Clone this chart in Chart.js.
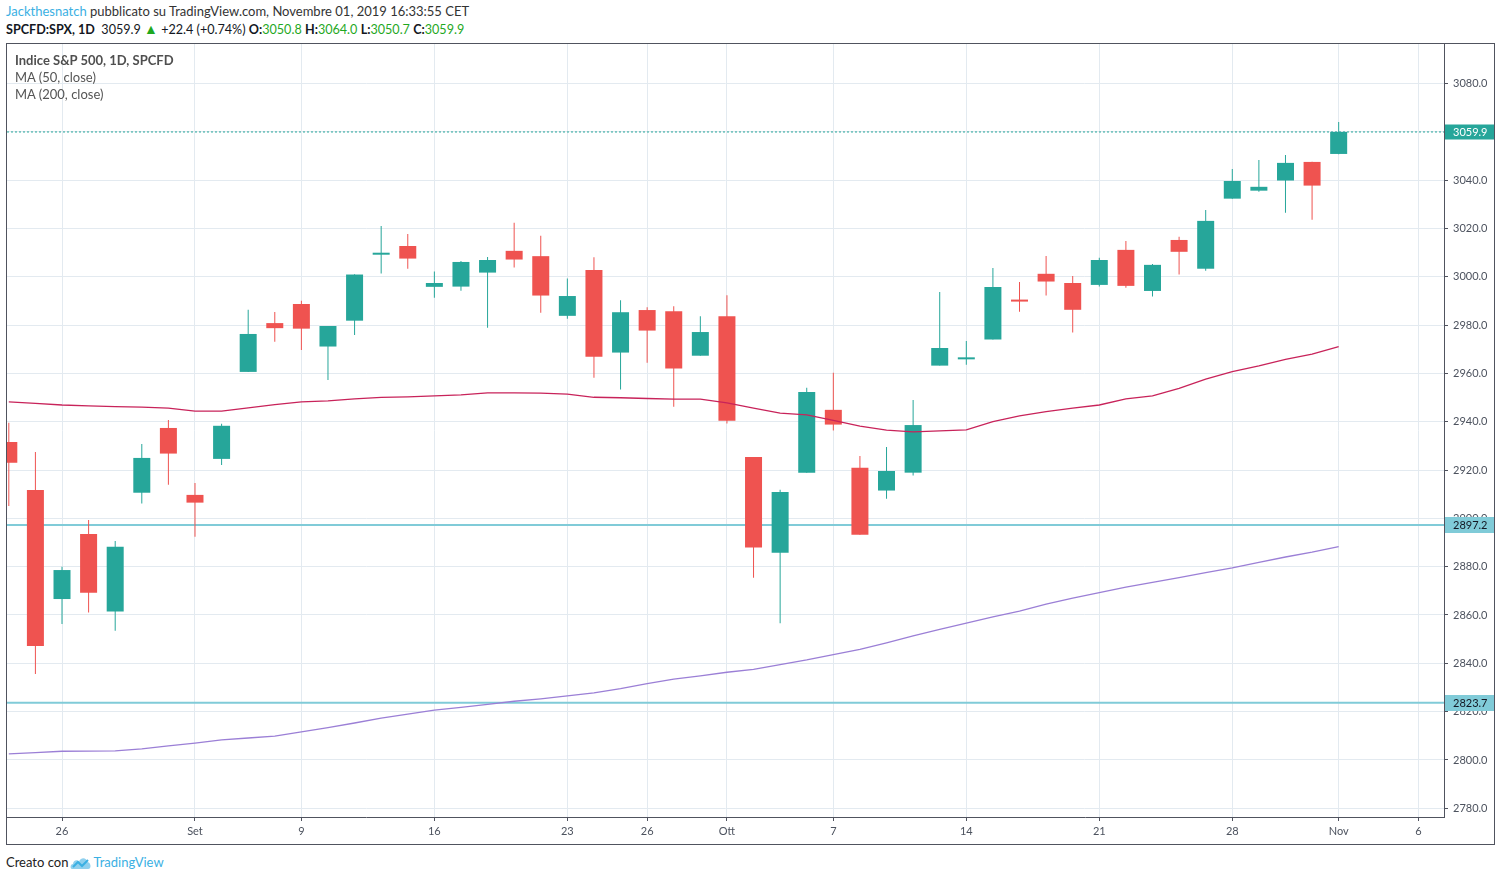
<!DOCTYPE html>
<html>
<head>
<meta charset="utf-8">
<script src="https://cdn.jsdelivr.net/npm/chart.js@4.4.1/dist/chart.umd.min.js"></script>
<style>
  body { margin: 0; background: #fff; width: 1501px; height: 881px; position: relative; overflow: hidden;
         font-family: Lato, "Noto Sans", sans-serif; color: #333; }
  .line { position: absolute; left: 6px; white-space: nowrap; font-size: 13px; line-height: 17px; }
  #hdr1 { top: 3px; }
  #hdr2 { top: 20px; color: #131722; font-size: 12.6px; }
  #hdr2 b { font-weight: 700; }
  .user { color: #3bb0e3; }
  .up { color: #1fa81f; }
  .tri { font-size: 14px; }
  #frame { position: absolute; left: 6px; top: 43px; width: 1487px; height: 800px; border: 1px solid #50535e; }
  #chart { position: absolute; left: 0; top: 0; }
  #legend { position: absolute; left: 8px; top: 8px; font-size: 13px; line-height: 17px; color: #555; }
  #legend .title { font-weight: 700; color: #4f4f4f; }
  #footer { position: absolute; left: 6px; top: 854px; font-size: 13px; line-height: 17px; color: #222; white-space: nowrap; }
  #footer .tv { color: #3bb0e3; }
  #footer svg { vertical-align: -3px; margin: 0 1px 0 2px; }
</style>
</head>
<body>
<div id="hdr1" class="line"><span class="user">Jackthesnatch</span> pubblicato su TradingView.com, Novembre 01, 2019 16:33:55 CET</div>
<div id="hdr2" class="line"><b>SPCFD:SPX, 1D</b>&nbsp; 3059.9 <span class="up tri">&#9650;</span> +22.4 (+0.74%) <b>O:</b><span class="up">3050.8</span> <b>H:</b><span class="up">3064.0</span> <b>L:</b><span class="up">3050.7</span> <b>C:</b><span class="up">3059.9</span></div>
<div id="frame">
  <canvas id="chart" width="1487" height="800"></canvas>
  <div id="legend">
    <div class="title">Indice S&amp;P 500, 1D, SPCFD</div>
    <div>MA (50, close)</div>
    <div>MA (200, close)</div>
  </div>
</div>
<div id="footer">Creato con<svg width="22" height="15" viewBox="0 0 22 15"><path d="M2 14 C0 14 0 9 3 9 C3 5 8 4 9 7 C10 2 17 2 17 7 C21 7 22 14 18 14 Z" fill="#8fd0ee"/><path d="M3 12 L8 7 L12 11 L18 5" stroke="#3bb0e3" stroke-width="2" fill="none"/></svg><span class="tv">TradingView</span></div>

<script>
// trading days shown on the chart (index = x position)
const days = ['22 ago','23 ago','26 ago','27 ago','28 ago','29 ago','30 ago',
  '3 set','4 set','5 set','6 set','9 set','10 set','11 set','12 set','13 set',
  '16 set','17 set','18 set','19 set','20 set','23 set','24 set','25 set','26 set','27 set',
  '30 set','1 ott','2 ott','3 ott','4 ott','7 ott','8 ott','9 ott','10 ott','11 ott',
  '14 ott','15 ott','16 ott','17 ott','18 ott','21 ott','22 ott','23 ott','24 ott','25 ott',
  '28 ott','29 ott','30 ott','31 ott','1 nov'];
const futureDays = ['4 nov','5 nov','6 nov','7 nov'];

const openPrices = [2931.6, 2911.7, 2866.6, 2893.5, 2861.4, 2910.6, 2937.4,
  2909.7, 2924.6, 2960.6, 2980.8, 2988.7, 2971.1, 2981.8, 3009.1, 3012.7,
  2995.8, 2995.9, 3001.7, 3010.7, 3008.5, 2983.8, 3002.8, 2968.6, 2986.2, 2985.7,
  2967.3, 2983.6, 2925.4, 2885.8, 2918.9, 2944.9, 2920.9, 2911.5, 2918.9, 2963.2,
  2965.8, 2974.0, 2990.4, 3001.2, 2997.4, 2996.6, 3011.1, 2994.1, 3015.2, 3003.3,
  3032.3, 3035.6, 3039.8, 3047.5, 3050.8];
const highPrices = [2939.6, 2927.5, 2880.0, 2899.3, 2890.6, 2930.8, 2940.7,
  2914.6, 2939.1, 2986.3, 2985.4, 2990.0, 2979.6, 3001.0, 3021.0, 3017.7,
  3002.2, 3006.5, 3008.2, 3022.3, 3016.9, 2999.3, 3008.0, 2990.3, 2987.4, 2987.8,
  2983.6, 2992.3, 2925.4, 2911.8, 2954.0, 2960.2, 2925.8, 2929.5, 2949.0, 2993.7,
  2973.4, 3003.6, 2997.8, 3008.6, 3000.3, 3007.8, 3014.8, 3005.3, 3016.5, 3027.6,
  3044.6, 3048.3, 3050.4, 3047.6, 3064.0];
const lowPrices = [2905.1, 2835.6, 2856.3, 2861.0, 2853.5, 2906.1, 2913.9,
  2892.4, 2922.1, 2960.6, 2973.1, 2969.7, 2957.3, 2975.9, 3001.3, 3003.3,
  2991.3, 2994.2, 2978.9, 3003.8, 2985.1, 2982.6, 2958.2, 2953.3, 2964.4, 2946.2,
  2967.3, 2939.2, 2875.4, 2856.6, 2918.9, 2936.3, 2893.2, 2908.1, 2917.7, 2963.2,
  2963.6, 2974.0, 2985.5, 2992.2, 2976.9, 2995.9, 2995.4, 2991.8, 3000.9, 3002.5,
  3032.3, 3035.2, 3026.5, 3023.6, 3050.7];
const closePrices = [2923.0, 2847.2, 2878.6, 2869.2, 2888.2, 2925.0, 2926.8,
  2906.5, 2938.3, 2976.3, 2978.7, 2978.5, 2979.6, 3000.9, 3009.6, 3007.5,
  2997.4, 3006.1, 3006.9, 3007.1, 2992.2, 2992.0, 2966.9, 2985.3, 2977.7, 2962.0,
  2977.1, 2940.4, 2887.9, 2910.9, 2952.3, 2938.8, 2893.2, 2919.6, 2938.6, 2970.5,
  2966.2, 2995.7, 2989.7, 2998.0, 2986.3, 3006.9, 2996.2, 3004.9, 3010.3, 3023.1,
  3039.6, 3037.2, 3047.1, 3037.7, 3059.9];

const ma50 = [2948.2, 2947.6, 2946.9, 2946.5, 2946.2, 2946.0, 2945.6,
  2944.4, 2944.4, 2945.7, 2947.1, 2948.2, 2948.6, 2949.4, 2950.1, 2950.3,
  2950.7, 2951.1, 2951.9, 2951.9, 2951.8, 2951.4, 2950.1, 2949.9, 2949.6, 2949.3,
  2949.3, 2947.8, 2945.6, 2943.5, 2942.8, 2940.5, 2938.2, 2936.5, 2935.8, 2936.2,
  2936.6, 2940.0, 2942.4, 2944.2, 2945.6, 2946.9, 2949.4, 2950.7, 2953.8, 2957.6,
  2960.7, 2963.1, 2965.8, 2968.0, 2971.1];
const ma200 = [2802.5, 2803.0, 2803.6, 2803.7, 2803.8, 2804.6, 2805.8,
  2807.0, 2808.3, 2809.1, 2809.9, 2811.6, 2813.4, 2815.3, 2817.3, 2819.0,
  2820.6, 2821.8, 2823.0, 2824.3, 2825.3, 2826.5, 2827.8, 2829.5, 2831.6, 2833.5,
  2834.8, 2836.3, 2837.5, 2839.5, 2841.4, 2843.6, 2845.8, 2848.5, 2851.4, 2854.0,
  2856.6, 2859.2, 2861.6, 2864.5, 2867.0, 2869.3, 2871.5, 2873.5, 2875.5, 2877.5,
  2879.5, 2881.8, 2884.0, 2886.0, 2888.3];

const tickDays = ['26 ago','3 set','9 set','16 set','23 set','26 set','1 ott',
  '7 ott','14 ott','21 ott','28 ott','1 nov','6 nov'];
const tickLabels = ['26','Set','9','16','23','26','Ott','7','14','21','28','Nov','6'];
const yTicks = [2780, 2800, 2820, 2840, 2860, 2880, 2900, 2920, 2940, 2960, 2980, 3000, 3020, 3040, 3060, 3080];
const levelLines = [2897.2, 2823.7];

const upColor = '#26a69a';
const downColor = '#ef5350';
const levelColor = '#80cbd8';
const gridColor = '#e3eaf0';
const axisColor = '#50535e';
const textColor = '#4c525e';
const fontFamily = 'Lato, "Noto Sans", sans-serif';

const allDays = days.concat(futureDays);
const xMin = -0.068, xMax = 53.96;
const lastClose = closePrices[closePrices.length - 1];

const candleColors = openPrices.map((o, i) => closePrices[i] >= o ? upColor : downColor);
const wickData = days.map((d, i) => ({ x: i, y: [lowPrices[i], highPrices[i]] }));
const bodyData = days.map((d, i) => ({ x: i, y: [openPrices[i], closePrices[i]] }));
const flat = v => [{ x: xMin, y: v }, { x: xMax, y: v }];

const tagPlugin = {
    id: 'priceTags',
    afterDraw(chart) {
        const { ctx, chartArea, scales } = chart;
        const drawTag = (value, bg, fg, h) => {
            const py = Math.round(scales.y.getPixelForValue(value));
            ctx.save();
            ctx.fillStyle = bg;
            ctx.fillRect(chartArea.right + 1, py - h / 2, chart.width - chartArea.right - 1, h);
            ctx.fillStyle = fg;
            ctx.font = '11px ' + fontFamily;
            ctx.textBaseline = 'middle';
            ctx.textAlign = 'left';
            ctx.fillText(value.toFixed(1), chartArea.right + 9, py + 0.5);
            ctx.restore();
        };
        levelLines.forEach(v => drawTag(v, levelColor, '#131722', 16));
        drawTag(lastClose, upColor, '#ffffff', 15);
    }
};

new Chart(document.getElementById('chart'), {
    type: 'bar',
    data: {
        datasets: [
            ...levelLines.map(v => ({
                type: 'line', data: flat(v), borderColor: levelColor, borderWidth: 2,
                pointRadius: 0, order: 6
            })),
            {
                type: 'line', data: flat(lastClose), borderColor: upColor, borderWidth: 1,
                borderDash: [2, 2], pointRadius: 0, order: 6
            },
            {
                label: 'wicks', data: wickData, backgroundColor: candleColors,
                barThickness: 1, grouped: false, inflateAmount: 0, borderWidth: 0, order: 4
            },
            {
                label: 'bodies', data: bodyData, backgroundColor: candleColors,
                barThickness: 17, grouped: false, inflateAmount: 0, borderWidth: 0,
                minBarLength: 2, order: 3
            },
            {
                type: 'line', label: 'MA (50, close)', data: ma50.map((v, i) => ({ x: i, y: v })),
                borderColor: '#c8235a', borderWidth: 1.3, pointRadius: 0, tension: 0, order: 1
            },
            {
                type: 'line', label: 'MA (200, close)', data: ma200.map((v, i) => ({ x: i, y: v })),
                borderColor: '#9b7fd6', borderWidth: 1.3, pointRadius: 0, tension: 0, order: 1
            }
        ]
    },
    options: {
        responsive: false,
        animation: false,
        events: [],
        layout: { padding: 0 },
        plugins: {
            legend: { display: false },
            tooltip: { enabled: false }
        },
        scales: {
            x: {
                type: 'linear',
                min: xMin,
                max: xMax,
                offset: false,
                grid: { color: gridColor, offset: false, tickLength: 4, tickColor: axisColor },
                border: { color: axisColor },
                ticks: {
                    autoSkip: false, maxRotation: 0, padding: 4, color: textColor,
                    font: { family: fontFamily, size: 11 },
                    callback: (v, i) => tickLabels[i]
                },
                afterBuildTicks: s => { s.ticks = tickDays.map(d => ({ value: allDays.indexOf(d) })); },
                afterFit: s => { s.height = 27; s.paddingLeft = 0; s.paddingRight = 0; }
            },
            y: {
                position: 'right',
                min: 2776.4,
                max: 3096.3,
                grid: { color: gridColor, tickLength: 4, tickColor: axisColor },
                border: { color: axisColor },
                ticks: {
                    padding: 5, color: textColor,
                    font: { family: fontFamily, size: 11 },
                    callback: v => v.toFixed(1)
                },
                afterBuildTicks: s => { s.ticks = yTicks.map(v => ({ value: v })); },
                afterFit: s => { s.width = 50; s.paddingTop = 0; s.paddingBottom = 0; }
            }
        }
    },
    plugins: [tagPlugin]
});
</script>
</body>
</html>
